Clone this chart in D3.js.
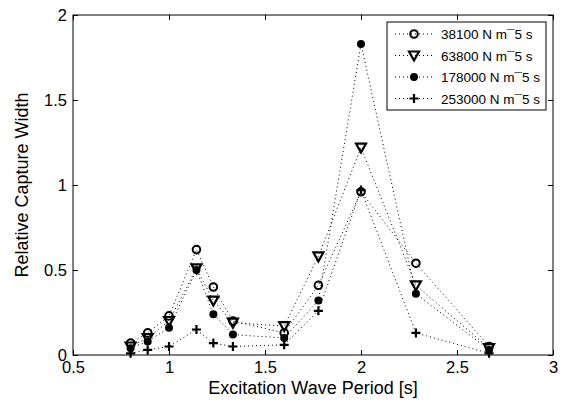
<!DOCTYPE html>
<html>
<head>
<meta charset="utf-8">
<script src="https://cdn.jsdelivr.net/npm/d3@7"></script>
<style>
  body { margin: 0; background: #fff; }
  svg { font-family: "Liberation Sans", Arial, sans-serif; }
</style>
</head>
<body>
<svg id="chart" width="563" height="405"></svg>
<script>
// wave periods [s]
const periods = [0.8, 0.889, 1.0, 1.143, 1.231, 1.333, 1.6, 1.778, 2.0, 2.286, 2.667];

// relative capture width per damping value
const cw38100 = [0.07, 0.13, 0.23, 0.62, 0.40, 0.20, 0.13, 0.41, 0.96, 0.54, 0.05];
const cw63800 = [0.05, 0.10, 0.20, 0.51, 0.32, 0.19, 0.17, 0.58, 1.22, 0.41, 0.04];
const cw178000 = [0.04, 0.08, 0.16, 0.50, 0.24, 0.12, 0.10, 0.32, 1.83, 0.36, 0.03];
const cw253000 = [0.01, 0.03, 0.05, 0.15, 0.07, 0.05, 0.06, 0.26, 0.97, 0.13, 0.01];

const seriesNames = ["38100 N m\u00AF5 s", "63800 N m\u00AF5 s", "178000 N m\u00AF5 s", "253000 N m\u00AF5 s"];
const seriesValues = [cw38100, cw63800, cw178000, cw253000];
const markerKinds = ["circle", "triangle", "dot", "plus"];

const xTicks = [0.5, 1, 1.5, 2, 2.5, 3];
const yTicks = [0, 0.5, 1, 1.5, 2];

const svg = d3.select("#chart");
const margin = { left: 73, right: 10, top: 15, bottom: 50 };
const W = 563, H = 405;

const x = d3.scaleLinear().domain([0.5, 3]).range([margin.left, W - margin.right]);
const y = d3.scaleLinear().domain([0, 2]).range([H - margin.bottom, margin.top]);

// 축 (안쪽 눈금)
const axisStyle = (g) => {
  g.select(".domain").remove();
  g.selectAll("line").attr("stroke", "#000");
  g.selectAll("text").attr("font-size", 16.5).attr("fill", "#000");
};

svg.append("g")
  .attr("transform", `translate(0,${y(0)})`)
  .call(d3.axisBottom(x).tickValues(xTicks).tickFormat(d3.format("")).tickSizeInner(-5).tickPadding(6))
  .call(axisStyle);
svg.append("g")
  .attr("transform", `translate(0,${y(2)})`)
  .call(d3.axisTop(x).tickValues(xTicks).tickFormat("").tickSizeInner(-5))
  .call(axisStyle);
svg.append("g")
  .attr("transform", `translate(${x(0.5)},0)`)
  .call(d3.axisLeft(y).tickValues(yTicks).tickFormat(d3.format("")).tickSizeInner(-5).tickPadding(6))
  .call(axisStyle);
svg.append("g")
  .attr("transform", `translate(${x(3)},0)`)
  .call(d3.axisRight(y).tickValues(yTicks).tickFormat("").tickSizeInner(-5))
  .call(axisStyle);

// 플롯 테두리
svg.append("rect")
  .attr("x", x(0.5)).attr("y", y(2))
  .attr("width", x(3) - x(0.5)).attr("height", y(0) - y(2))
  .attr("fill", "none").attr("stroke", "#000").attr("stroke-width", 1);

// 마커 그리기
function drawMarker(g, kind, cx, cy) {
  if (kind === "circle") {
    g.append("circle").attr("cx", cx).attr("cy", cy).attr("r", 3.8)
      .attr("fill", "none").attr("stroke", "#000").attr("stroke-width", 2);
  } else if (kind === "triangle") {
    const s = 5;
    g.append("path")
      .attr("d", `M${cx - s},${cy - s * 0.8}L${cx + s},${cy - s * 0.8}L${cx},${cy + s}Z`)
      .attr("fill", "none").attr("stroke", "#000").attr("stroke-width", 2.2)
      .attr("stroke-linejoin", "miter");
  } else if (kind === "dot") {
    g.append("circle").attr("cx", cx).attr("cy", cy).attr("r", 4).attr("fill", "#000");
  } else {
    const s = 4.5;
    g.append("path")
      .attr("d", `M${cx - s},${cy}L${cx + s},${cy}M${cx},${cy - s}L${cx},${cy + s}`)
      .attr("stroke", "#000").attr("stroke-width", 2.2);
  }
}

const line = d3.line().x((d) => x(d[0])).y((d) => y(d[1]));

seriesValues.forEach((vals, i) => {
  const pts = periods.map((p, j) => [p, vals[j]]);
  const g = svg.append("g");
  g.append("path").attr("d", line(pts))
    .attr("fill", "none").attr("stroke", "#000").attr("stroke-width", 1)
    .attr("stroke-dasharray", "1,3");
  pts.forEach((d) => drawMarker(g, markerKinds[i], x(d[0]), y(d[1])));
});

// 범례
const lg = svg.append("g");
lg.append("rect").attr("x", 387).attr("y", 22).attr("width", 159).attr("height", 88)
  .attr("fill", "#fff").attr("stroke", "#000").attr("stroke-width", 1);
seriesNames.forEach((name, i) => {
  const ly = 34 + i * 21.5;
  lg.append("line").attr("x1", 395).attr("x2", 433).attr("y1", ly).attr("y2", ly)
    .attr("stroke", "#000").attr("stroke-width", 1).attr("stroke-dasharray", "1,3");
  drawMarker(lg, markerKinds[i], 414, ly);
  lg.append("text").attr("x", 441).attr("y", ly + 5).attr("font-size", 13.5).text(name);
});

// 축 제목
svg.append("text").attr("x", (x(0.5) + x(3)) / 2).attr("y", 394)
  .attr("text-anchor", "middle").attr("font-size", 18).text("Excitation Wave Period [s]");
svg.append("text")
  .attr("transform", `translate(28,${(y(0) + y(2)) / 2}) rotate(-90)`)
  .attr("text-anchor", "middle").attr("font-size", 18).text("Relative Capture Width");
</script>
</body>
</html>
